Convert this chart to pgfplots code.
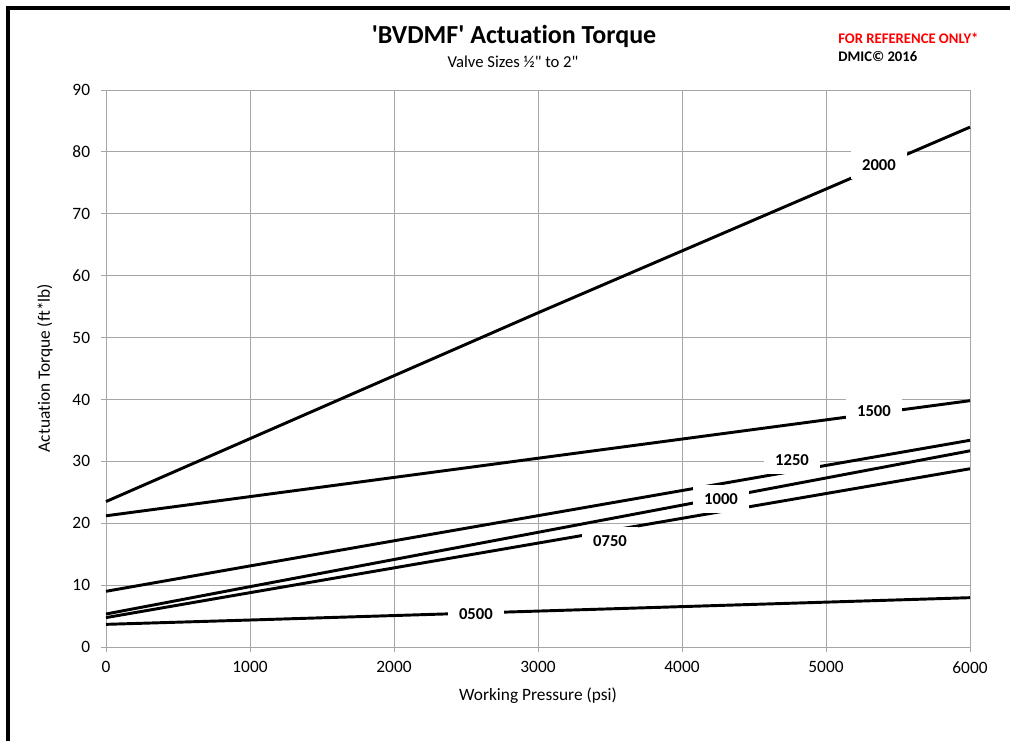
\documentclass[border=0pt]{standalone}
\usepackage{pgfplots}
\pgfplotsset{compat=1.18}
\usepackage{fontspec}
\setmainfont{Carlito}[Ligatures={TeXOff,NoCommon}]
\definecolor{gridgray}{HTML}{A6A6A6}
\definecolor{refred}{HTML}{FF0000}
\begin{document}
\begin{tikzpicture}[x=0.75pt,y=0.75pt]
\path[use as bounding box] (0,0) rectangle (1010,740);
\begin{axis}[
  at={(79.5pt,69.75pt)}, anchor=south west,
  scale only axis, width=648pt, height=417.75pt,
  xmin=0, xmax=6000, ymin=0, ymax=90,
  xtick={0,1000,...,6000}, ytick={0,10,...,90},
  grid=major, grid style={draw=gridgray, line width=0.75pt},
  axis lines*=left,
  axis line style={draw=gridgray, line width=0.75pt, -},
  tick style={draw=gridgray, line width=0.75pt},
  tick align=outside, major tick length=3.75pt,
  ticklabel style={font=\fontsize{13}{15}\selectfont},
  /pgf/number format/assume math mode=true,
  /pgf/number format/1000 sep={},
  xticklabel style={anchor=north, inner sep=0pt, yshift=-7pt},
  yticklabel style={anchor=east, inner sep=0pt, xshift=-8pt},
  clip=false,
]
\addplot[black, line width=2.2pt] coordinates {(0,23.5) (3000,54.0) (6000,84.0)};
\addplot[black, line width=2.2pt] coordinates {(0,21.2) (1000,24.3) (6000,39.8)};
\addplot[black, line width=2.2pt] coordinates {(0,9.0) (1000,13.1) (6000,33.4)};
\addplot[black, line width=2.2pt] coordinates {(0,5.33) (1000,9.75) (6000,31.7)};
\addplot[black, line width=2.2pt] coordinates {(0,4.75) (1000,8.78) (6000,28.8)};
\addplot[black, line width=2.2pt] coordinates {(0,3.66) (1000,4.36) (6000,7.97)};
\tikzset{lbl/.style={fill=white, inner sep=0pt, minimum width=42pt, minimum height=21pt, font=\bfseries\fontsize{12.5}{14}\selectfont}}
\node[lbl] at (axis cs:5368,77.9) {2000};
\node[lbl] at (axis cs:5333,38.1) {1500};
\node[lbl] at (axis cs:4764,30.2) {1250};
\node[lbl] at (axis cs:4271,23.9) {1000};
\node[lbl] at (axis cs:3500,17.1) {0750};
\node[lbl] at (axis cs:2569,5.33) {0500};
\end{axis}
\draw[black, line width=3pt] (7.5,-5) -- (7.5,732) -- (1015,732);
\node[font=\bfseries\fontsize{19.5}{22}\selectfont] at (514,704) {'BVDMF' Actuation Torque};
\node[font=\fontsize{12.5}{14}\selectfont] at (513,678) {Valve Sizes ½" to 2"};
\node[anchor=west, inner sep=0pt, text=refred, font=\bfseries\fontsize{11}{13}\selectfont] at (838,702) {FOR REFERENCE ONLY*};
\node[anchor=west, inner sep=0pt, font=\bfseries\fontsize{11}{13}\selectfont] at (838,684) {DMIC© 2016};
\node[font=\fontsize{13}{15}\selectfont] at (538,44) {Working Pressure (psi)};
\node[rotate=90, font=\fontsize{13}{15}\selectfont] at (45,372) {Actuation Torque (ft*lb)};
\end{tikzpicture}
\end{document}
